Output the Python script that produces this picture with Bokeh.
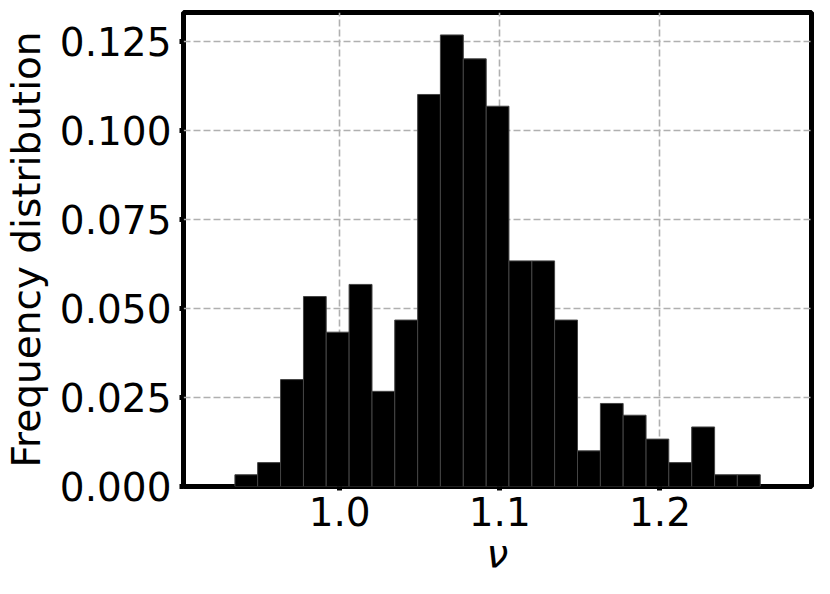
from bokeh.plotting import figure
from bokeh.models import Range1d, FixedTicker, NumeralTickFormatter, ColumnDataSource
from bokeh.embed import file_html
from bokeh.resources import INLINE

# Histogram bin edges (nu) and frequency per bin
bin_edges = [0.9346, 0.9488, 0.9631, 0.9774, 0.9916, 1.0059, 1.0202, 1.0344,
             1.0487, 1.0629, 1.0772, 1.0915, 1.1057, 1.1200, 1.1342, 1.1485,
             1.1628, 1.1770, 1.1913, 1.2055, 1.2198, 1.2341, 1.2483, 1.2626]
frequency = [0.0033, 0.0067, 0.0300, 0.0533, 0.0433, 0.0567, 0.0267, 0.0467,
             0.1100, 0.1267, 0.1200, 0.1067, 0.0633, 0.0633, 0.0467, 0.0100,
             0.0233, 0.0200, 0.0133, 0.0067, 0.0167, 0.0033, 0.0033]
x_ticks = [1.0, 1.1, 1.2]
y_ticks = [0.0, 0.025, 0.05, 0.075, 0.1, 0.125]
x_lo, x_hi = 0.9025, 1.2946
y_lo, y_hi = 0.0, 0.1330

src = ColumnDataSource(dict(left=bin_edges[:-1], right=bin_edges[1:],
                            top=frequency, bottom=[0.0] * len(frequency)))

FONT = "DejaVu Sans"
FS = "39px"

p = figure(width=814, height=578, output_backend="svg", toolbar_location=None,
           x_range=Range1d(x_lo, x_hi), y_range=Range1d(y_lo, y_hi))
p.min_border_left = 181
p.min_border_right = 3
p.min_border_top = 12
p.min_border_bottom = 92
p.background_fill_color = "white"
p.border_fill_color = "white"
p.outline_line_color = "black"
p.outline_line_width = 5

p.quad(left="left", right="right", top="top", bottom="bottom", source=src,
       fill_color="black", line_color="#444444", line_width=1)

p.xaxis.ticker = FixedTicker(ticks=x_ticks)
p.yaxis.ticker = FixedTicker(ticks=y_ticks)
p.xaxis.formatter = NumeralTickFormatter(format="0.0")
p.yaxis.formatter = NumeralTickFormatter(format="0.000")

for ax in (p.xaxis[0], p.yaxis[0]):
    ax.axis_line_color = None
    ax.major_tick_line_color = "black"
    ax.major_tick_line_width = 5
    ax.major_tick_out = 4
    ax.major_tick_in = 0
    ax.minor_tick_line_color = None
    ax.major_label_text_font = FONT
    ax.major_label_text_font_size = FS
    ax.major_label_text_color = "black"
    ax.axis_label_text_font = FONT
    ax.axis_label_text_font_size = FS
    ax.axis_label_text_color = "black"

p.xaxis.axis_label = "ν"
p.xaxis.axis_label_text_font_style = "italic"
p.xaxis.major_label_standoff = 6
p.xaxis.axis_label_standoff = 2
p.yaxis.axis_label = "Frequency distribution"
p.yaxis.axis_label_text_font_style = "normal"
p.yaxis.major_label_standoff = 8
p.yaxis.axis_label_standoff = 8

p.grid.grid_line_color = "#b0b0b0"
p.grid.grid_line_dash = "7 3"
p.grid.grid_line_width = 1.6

open("out.html", "w").write(file_html(p, INLINE))
